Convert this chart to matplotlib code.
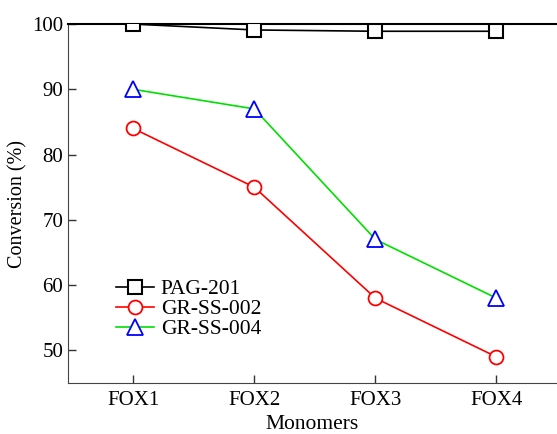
import matplotlib
matplotlib.use("Agg")
import matplotlib.pyplot as plt

monomers = ["FOX1", "FOX2", "FOX3", "FOX4"]
pag_201 = [100.0, 99.1, 98.9, 98.9]
gr_ss_002 = [84, 75, 58, 49]
gr_ss_004 = [90, 87, 67, 58]

plt.rcParams["font.family"] = ["Liberation Serif", "DejaVu Serif"]

fig = plt.figure(figsize=(5.57, 4.34), dpi=100)
ax = fig.add_axes([0.122, 0.1175, 0.878, 0.827])

x = range(1, len(monomers) + 1)
ax.plot(x, pag_201, "-s", color="black", lw=1.2, ms=10, mfc="white", mec="black",
        mew=1.5, label="PAG-201", zorder=3)
ax.plot(x, gr_ss_002, "-o", color="red", lw=1.2, ms=10, mfc="white", mec="red",
        mew=1.3, label="GR-SS-002", zorder=3)
ax.plot(x, gr_ss_004, "-^", color="#00e000", lw=1.2, ms=11, mfc="white", mec="blue",
        mew=1.3, label="GR-SS-004", zorder=3)

ax.set_xlim(0.46, 4.5)
ax.set_ylim(45, 100)
ax.set_xticks(list(x))
ax.set_xticklabels(monomers)
ax.set_yticks([50, 60, 70, 80, 90, 100])
ax.tick_params(direction="in", length=6, labelsize=15, width=1, colors="#333333",
               labelcolor="black")
ax.tick_params(axis="x", pad=6)
ax.spines["right"].set_visible(False)
for s in ("left", "bottom"):
    ax.spines[s].set_color("#444444")
ax.spines["top"].set_color("black")
ax.spines["top"].set_linewidth(1.5)

ax.set_xlabel("Monomers", fontsize=15.5, labelpad=3)
ax.set_ylabel("Conversion (%)", fontsize=14.5, labelpad=3)

ax.legend(loc="lower left", bbox_to_anchor=(0.08, 0.098), frameon=False, fontsize=15.5,
          handlelength=1.8, handletextpad=0.3, labelspacing=0.0, borderaxespad=0)

fig.savefig("out.png", dpi=100)
